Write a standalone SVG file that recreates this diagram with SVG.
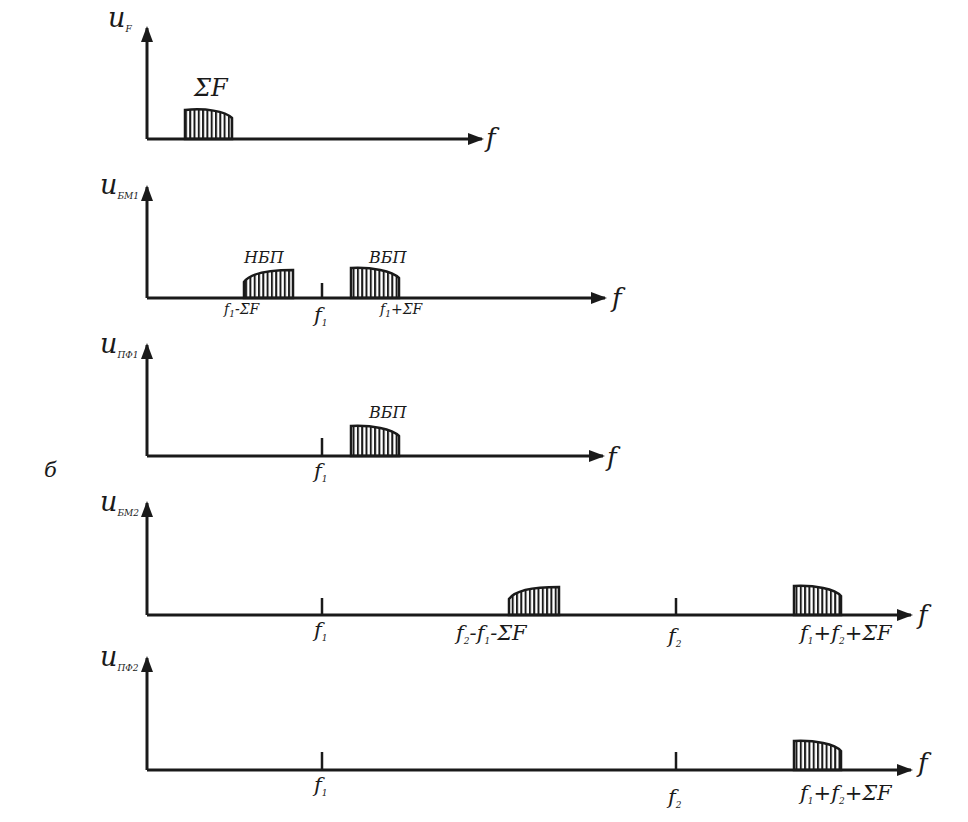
<svg xmlns="http://www.w3.org/2000/svg" width="968" height="822" viewBox="0 0 968 822">
<style>
.ax{stroke:#1a1a1a;stroke-width:3;fill:none}
.tk{stroke:#1a1a1a;stroke-width:2.5}
.sp{fill:url(#h);stroke:#1a1a1a;stroke-width:2.5}
text{font-family:"DejaVu Serif","Liberation Serif","Times New Roman",serif;font-style:italic;fill:#1a1a1a}
.u{font-size:27px}
.sub{font-size:9px}
.lb{font-size:21px}
.sm{font-size:16px}
.fs{font-size:14px}
</style>
<defs>
<pattern id="h" width="4.3" height="20" patternUnits="userSpaceOnUse"><rect x="0" y="0" width="2" height="20" fill="#1a1a1a"/></pattern>
<marker id="ar" viewBox="0 0 16 12" refX="14" refY="6" markerWidth="16" markerHeight="12" markerUnits="userSpaceOnUse" orient="auto"><path d="M0,0 L16,6 L0,12 Z" fill="#1a1a1a"/></marker>
</defs>
<rect width="968" height="822" fill="#fff"/>

<g id="connectors">
<line class="ax" x1="147" y1="139" x2="147" y2="28" marker-end="url(#ar)"/>
<line class="ax" x1="147" y1="139" x2="482" y2="139" marker-end="url(#ar)"/>
<line class="ax" x1="147" y1="298" x2="147" y2="187" marker-end="url(#ar)"/>
<line class="ax" x1="147" y1="298" x2="605" y2="298" marker-end="url(#ar)"/>
<line class="ax" x1="147" y1="456" x2="147" y2="345" marker-end="url(#ar)"/>
<line class="ax" x1="147" y1="456" x2="603" y2="456" marker-end="url(#ar)"/>
<line class="ax" x1="147" y1="615" x2="147" y2="503" marker-end="url(#ar)"/>
<line class="ax" x1="147" y1="615" x2="911" y2="615" marker-end="url(#ar)"/>
<line class="ax" x1="147" y1="770" x2="147" y2="658" marker-end="url(#ar)"/>
<line class="ax" x1="147" y1="770" x2="911" y2="770" marker-end="url(#ar)"/>
</g>

<g id="panel-uF">
<text class="u" x="108" y="27">u<tspan class="sub" dy="5">F</tspan></text>
<path class="sp" d="M185,139 V110 C205,108 225,111 232,118 V139 Z"/>
<text x="194" y="96" style="font-size:24px">ΣF</text>
<text x="486" y="147" style="font-size:26px">f</text>
</g>

<g id="panel-uBM1">
<text class="u" x="100" y="194">u<tspan class="sub" dy="5">БМ1</tspan></text>
<path class="sp" d="M244,298 V282 C250,273 270,270 293,270 V298 Z"/>
<path class="sp" d="M351,298 V268 C372,267 392,271 399,278 V298 Z"/>
<line class="tk" x1="322" y1="283" x2="322" y2="298"/>
<text class="sm" x="244" y="263">НБП</text>
<text class="sm" x="369" y="263">ВБП</text>
<text class="fs" x="224" y="314">f<tspan class="sub" dy="3">1</tspan><tspan dy="-3">-ΣF</tspan></text>
<text class="lb" x="314" y="322">f<tspan class="sub" dy="4">1</tspan></text>
<text class="fs" x="380" y="314">f<tspan class="sub" dy="3">1</tspan><tspan dy="-3">+ΣF</tspan></text>
<text x="612" y="307" style="font-size:26px">f</text>
</g>

<g id="panel-uPF1">
<text class="u" x="100" y="353">u<tspan class="sub" dy="5">ПФ1</tspan></text>
<path class="sp" d="M351,456 V426 C372,425 392,429 399,436 V456 Z"/>
<line class="tk" x1="322" y1="438" x2="322" y2="456"/>
<text class="sm" x="369" y="418">ВБП</text>
<text class="lb" x="314" y="478">f<tspan class="sub" dy="4">1</tspan></text>
<text x="607" y="466" style="font-size:26px">f</text>
</g>

<text id="label-b" class="lb" x="44" y="477">б</text>

<g id="panel-uBM2">
<text class="u" x="100" y="511">u<tspan class="sub" dy="5">БМ2</tspan></text>
<path class="sp" d="M509,615 V599 C515,590 535,587 559,587 V615 Z"/>
<path class="sp" d="M794,615 V586 C815,585 835,589 841,596 V615 Z"/>
<line class="tk" x1="322" y1="598" x2="322" y2="615"/>
<line class="tk" x1="676" y1="598" x2="676" y2="615"/>
<text class="lb" x="314" y="637">f<tspan class="sub" dy="4">1</tspan></text>
<text class="lb" x="456" y="640">f<tspan class="sub" dy="4">2</tspan><tspan dy="-4">-</tspan>f<tspan class="sub" dy="4">1</tspan><tspan dy="-4">-ΣF</tspan></text>
<text class="lb" x="668" y="643">f<tspan class="sub" dy="4">2</tspan></text>
<text class="lb" x="800" y="640">f<tspan class="sub" dy="4">1</tspan><tspan dy="-4">+</tspan>f<tspan class="sub" dy="4">2</tspan><tspan dy="-4">+ΣF</tspan></text>
<text x="918" y="624" style="font-size:26px">f</text>
</g>

<g id="panel-uPF2">
<text class="u" x="100" y="666">u<tspan class="sub" dy="5">ПФ2</tspan></text>
<path class="sp" d="M794,770 V741 C815,740 835,744 841,751 V770 Z"/>
<line class="tk" x1="322" y1="752" x2="322" y2="770"/>
<line class="tk" x1="676" y1="752" x2="676" y2="770"/>
<text class="lb" x="314" y="792">f<tspan class="sub" dy="4">1</tspan></text>
<text class="lb" x="668" y="804">f<tspan class="sub" dy="4">2</tspan></text>
<text class="lb" x="800" y="800">f<tspan class="sub" dy="4">1</tspan><tspan dy="-4">+</tspan>f<tspan class="sub" dy="4">2</tspan><tspan dy="-4">+ΣF</tspan></text>
<text x="918" y="772" style="font-size:26px">f</text>
</g>
</svg>
